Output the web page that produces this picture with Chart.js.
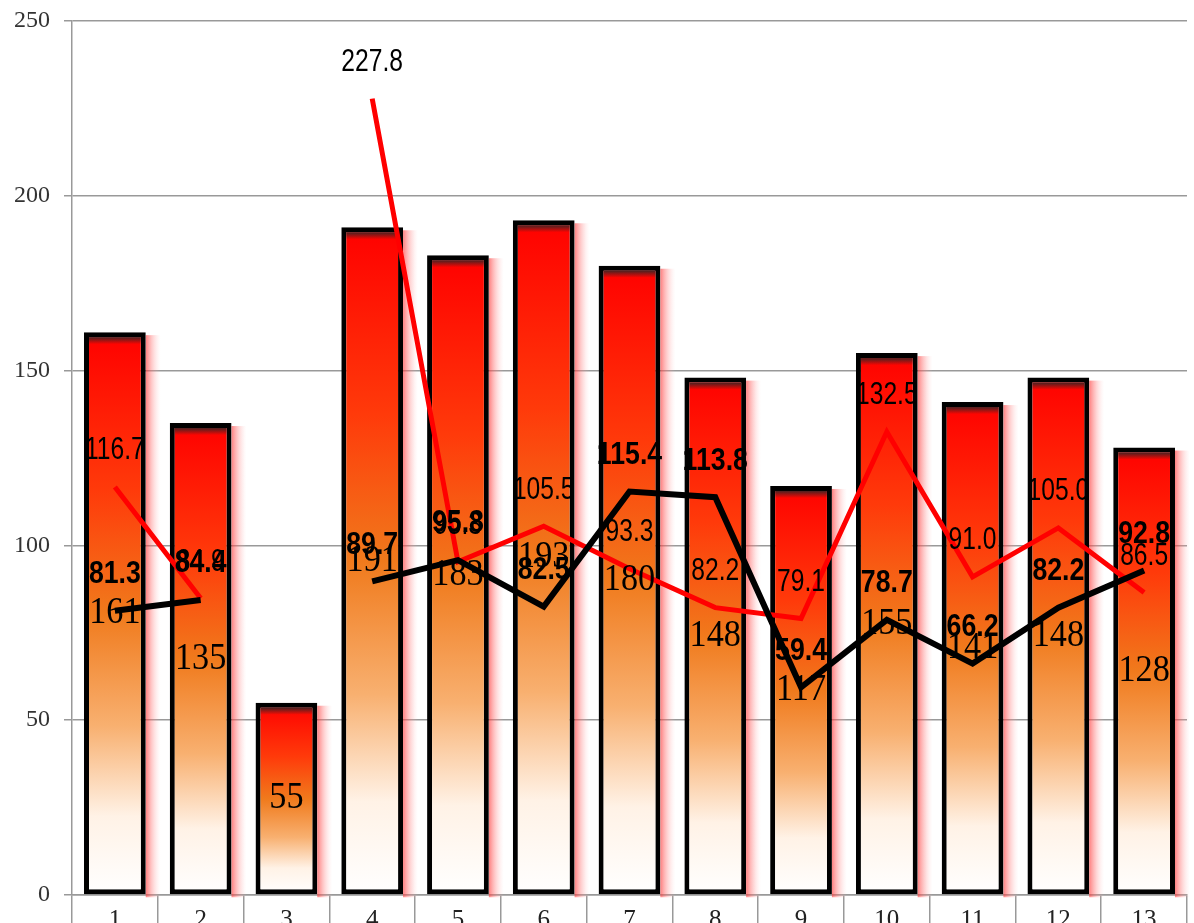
<!DOCTYPE html>
<html>
<head>
<meta charset="utf-8">
<script src="https://cdn.jsdelivr.net/npm/chart.js@4.4.1/dist/chart.umd.min.js"></script>
<style>
  html, body { margin: 0; padding: 0; background: #fff; overflow: hidden; }
  #wrap { position: relative; width: 1194px; height: 945px; }
</style>
</head>
<body>
<div id="wrap"><canvas id="chart"></canvas></div>
<script>
var categories = ['1', '2', '3', '4', '5', '6', '7', '8', '9', '10', '11', '12', '13'];
var barValues = [161, 135, 55, 191, 183, 193, 180, 148, 117, 155, 141, 148, 128];
var redLine = [116.7, 84.9, null, 227.8, 95.3, 105.5, 93.3, 82.2, 79.1, 132.5, 91.0, 105.0, 86.5];
var blackLine = [81.3, 84.4, null, 89.7, 95.8, 82.5, 115.4, 113.8, 59.4, 78.7, 66.2, 82.2, 92.8];
var yTicks = [0, 50, 100, 150, 200, 250];

function barGradient(context) {
    var chart = context.chart;
    if (!chart.chartArea || !chart.scales.y) return '#f07010';
    var v = context.parsed ? context.parsed.y : context.raw;
    var top = chart.scales.y.getPixelForValue(v);
    var base = chart.scales.y.getPixelForValue(0);
    var g = chart.ctx.createLinearGradient(0, top, 0, base);
    g.addColorStop(0, '#ff0000');
    g.addColorStop(0.28, '#ff3a0a');
    g.addColorStop(0.5, '#f07a1c');
    g.addColorStop(0.7, '#f8b070');
    g.addColorStop(0.86, '#fff2e6');
    g.addColorStop(1, '#ffffff');
    return g;
}

// pink glow on the right of each bar, and a dark bevel at the top
var shadowPlugin = {
    id: 'barShadow',
    beforeDatasetDraw: function (chart, args) {
        if (args.meta.type !== 'bar') return;
        var c = chart.ctx;
        c.save();
        args.meta.data.forEach(function (el) {
            var right = el.x + el.width / 2;
            var g = c.createLinearGradient(right, 0, right + 15, 0);
            g.addColorStop(0, 'rgba(255, 60, 60, 0.65)');
            g.addColorStop(1, 'rgba(255, 200, 200, 0)');
            c.fillStyle = g;
            c.fillRect(right, el.y + 3, 15, el.base - el.y);
        });
        c.restore();
    },
    afterDatasetDraw: function (chart, args) {
        if (args.meta.type !== 'bar') return;
        var c = chart.ctx;
        c.save();
        args.meta.data.forEach(function (el) {
            var left = el.x - el.width / 2 + 5;
            var w = el.width - 10;
            var g = c.createLinearGradient(0, el.y + 5, 0, el.y + 12);
            g.addColorStop(0, 'rgba(40, 40, 40, 0.85)');
            g.addColorStop(1, 'rgba(40, 40, 40, 0)');
            c.fillStyle = g;
            c.fillRect(left, el.y + 5, w, 7);
        });
        c.restore();
    }
};

var labelPlugin = {
    id: 'valueLabels',
    afterDatasetsDraw: function (chart) {
        var c = chart.ctx;
        c.save();
        c.fillStyle = '#000';
        c.textAlign = 'center';
        c.textBaseline = 'middle';
        chart.data.datasets.forEach(function (ds, i) {
            var meta = chart.getDatasetMeta(i);
            meta.data.forEach(function (el, j) {
                var v = ds.data[j];
                if (v === null || v === undefined) return;
                c.save();
                if (meta.type === 'bar') {
                    c.font = "38px 'Liberation Serif'";
                    c.translate(el.x, (el.y + el.base) / 2);
                    c.scale(0.9, 1);
                    c.fillText(String(v), 0, 0);
                } else {
                    c.font = ds.labelBold ? "bold 29px 'Liberation Sans'" : "29px 'Liberation Sans'";
                    c.translate(el.x, el.y - 36);
                    c.scale(ds.labelBold ? 0.92 : 0.85, 1.05);
                    c.fillText(v.toFixed(1), 0, 0);
                }
                c.restore();
            });
        });
        c.restore();
    }
};

new Chart(document.getElementById('chart').getContext('2d'), {
    type: 'bar',
    data: {
        labels: categories,
        datasets: [{
            type: 'line',
            label: 'black',
            data: blackLine,
            borderColor: '#000',
            borderWidth: 6,
            pointRadius: 0,
            tension: 0,
            spanGaps: false,
            labelBold: true,
            order: 1
        }, {
            type: 'line',
            label: 'red',
            data: redLine,
            borderColor: '#ff0000',
            borderWidth: 5,
            pointRadius: 0,
            tension: 0,
            spanGaps: false,
            labelBold: false,
            order: 2
        }, {
            type: 'bar',
            label: 'bars',
            data: barValues,
            backgroundColor: barGradient,
            borderColor: '#000',
            borderWidth: 5,
            borderSkipped: false,
            categoryPercentage: 0.72,
            barPercentage: 1.0,
            order: 3
        }]
    },
    options: {
        responsive: true,
        maintainAspectRatio: false,
        animation: false,
        layout: { padding: { top: 21, right: 7, left: 0, bottom: 0 } },
        plugins: {
            legend: { display: false },
            tooltip: { enabled: false }
        },
        scales: {
            x: {
                offset: true,
                grid: {
                    offset: true,
                    drawOnChartArea: false,
                    color: '#999',
                    lineWidth: 1.5,
                    tickLength: 34
                },
                border: { color: '#999', width: 1.5 },
                ticks: {
                    color: '#222',
                    padding: -24,
                    font: { family: "'Liberation Serif'", size: 25 }
                },
                afterFit: function (scale) {
                    scale.height = 50;
                    scale.paddingLeft = 0;
                    scale.paddingRight = 0;
                }
            },
            y: {
                min: 0,
                max: 250,
                afterBuildTicks: function (scale) {
                    scale.ticks = yTicks.map(function (v) { return { value: v }; });
                },
                grid: {
                    color: '#999',
                    lineWidth: 1.5,
                    tickLength: 8
                },
                border: { color: '#999', width: 1.5 },
                ticks: {
                    color: '#333',
                    padding: 14,
                    font: { family: "'Liberation Serif'", size: 24 }
                },
                afterFit: function (scale) {
                    scale.width = 72;
                    scale.paddingTop = 0;
                    scale.paddingBottom = 0;
                }
            }
        }
    },
    plugins: [shadowPlugin, labelPlugin]
});
</script>
</body>
</html>
